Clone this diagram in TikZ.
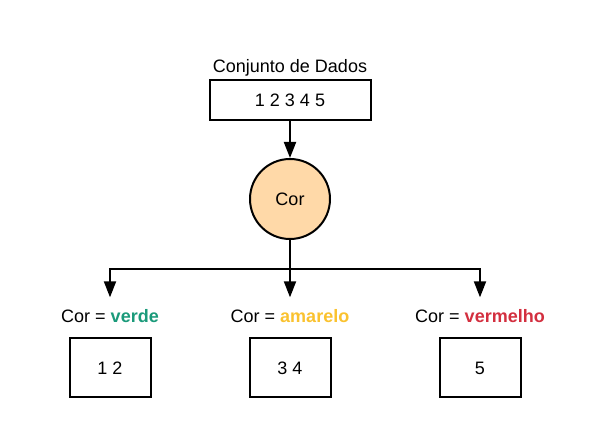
\documentclass[tikz,border=0pt]{standalone}
\usepackage{fontspec}
\setmainfont{Liberation Sans}
\usepackage{xcolor}
\usetikzlibrary{
  arrows.meta,
  positioning
}
\definecolor{verde}{HTML}{1A9A7A}
\definecolor{amarelo}{HTML}{FAC22F}
\definecolor{vermelho}{HTML}{D32F3F}
\definecolor{laranja}{HTML}{FFD9A8}

\begin{document}
\begin{tikzpicture}[
    x=0.75pt, y=-0.75pt,
    every node/.style={font=\fontsize{13.5}{16}\selectfont},
    caixa/.style={
      draw,
      line width=1.5pt,
      minimum width=120.75pt,
      minimum height=30pt
    },
    grupo/.style={
      draw,
      line width=1.5pt,
      minimum width=60.75pt,
      minimum height=44.25pt
    },
    atributo/.style={
      draw,
      circle,
      line width=1.5pt,
      fill=laranja,
      minimum size=60pt
    },
    linha/.style={line width=1.5pt},
    ar/.style={-{Triangle[length=12pt, width=9pt]}, line width=1.5pt}
  ]
    \useasboundingbox (0,0) rectangle (590,438);

    % Top: data set and the attribute node
    \node[caixa] (dados) at (290,100) {1 2 3 4 5};
    \node (titulo) at (290,68) {Conjunto de Dados};
    \node[atributo] (cor) at (290,199) {Cor};

    \draw[ar] (dados) -- (cor);

    % Split by colour
    \coordinate (ramo) at (290,269);
    \node (verde) at (110,316) {Cor = \textbf{\color{verde}verde}};
    \node (amarelo) at (290,316) {Cor = \textbf{\color{amarelo}amarelo}};
    \node (vermelho) at (480,316) {Cor = \textbf{\color{vermelho}vermelho}};

    \draw[linha] (cor) -- (ramo);
    \draw[ar, shorten >=5.5pt] (ramo) -| (verde);
    \draw[ar, shorten >=5.5pt] (ramo) -- (amarelo);
    \draw[ar, shorten >=5.5pt] (ramo) -| (vermelho);

    % Resulting subsets
    \node[grupo] (g1) at (110,368) {1 2};
    \node[grupo] (g2) at (290,368) {3 4};
    \node[grupo] (g3) at (480,368) {5};

  \end{tikzpicture}
\end{document}
